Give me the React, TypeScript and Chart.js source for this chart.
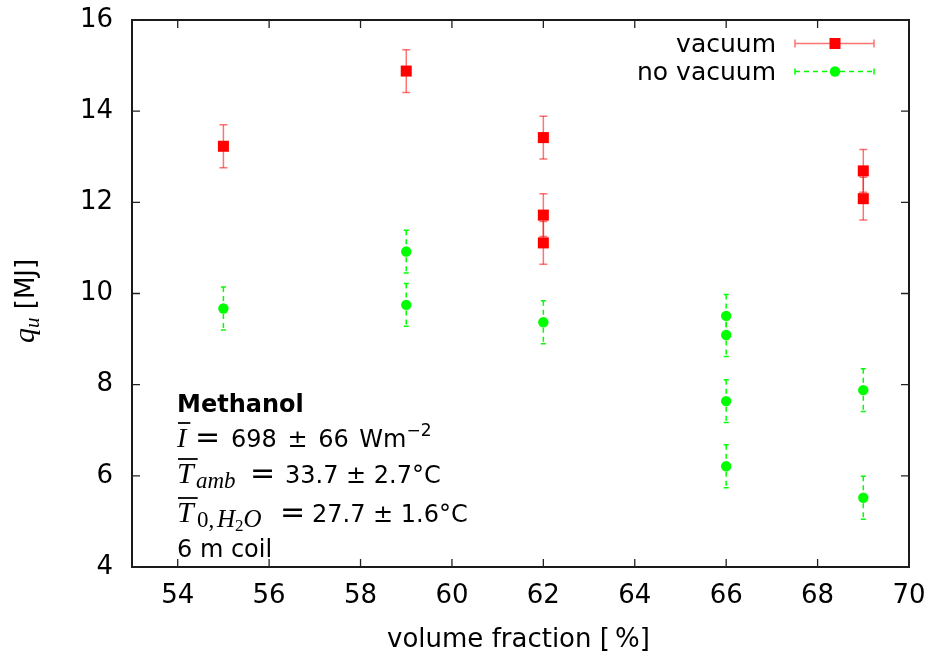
import React, { useEffect, useRef } from "react";
import { Chart, registerables } from "chart.js";

Chart.register(...registerables);

// ---- data ----
const vacuumX = [55, 59, 62, 62, 62, 69, 69];
const vacuumY = [13.23, 14.88, 13.42, 11.72, 11.11, 12.69, 12.08];
const vacuumErr = [0.47, 0.47, 0.47, 0.47, 0.47, 0.47, 0.47];

const noVacuumX = [55, 59, 59, 62, 66, 66, 66, 66, 69, 69];
const noVacuumY = [9.67, 10.92, 9.75, 9.37, 9.51, 9.09, 7.64, 6.21, 7.88, 5.52];
const noVacuumErr = [0.47, 0.47, 0.47, 0.47, 0.47, 0.47, 0.47, 0.47, 0.47, 0.47];

const xTicks = [54, 56, 58, 60, 62, 64, 66, 68, 70];
const yTicks = [4, 6, 8, 10, 12, 14, 16];
const seriesLabels = ["vacuum", "no vacuum"];

const SANS = '"DejaVu Sans"';
const SERIF = '"Liberation Serif"';
const RED = "#ff0000";
const RED_BAR = "rgba(255,0,0,0.55)";
const GREEN = "#00ff00";

type Run = { t: string; f: string; x?: number; dy?: number; over?: boolean; ws?: number };

function drawRuns(ctx: CanvasRenderingContext2D, x0: number, y: number, runs: Run[]) {
  let x = x0;
  for (const r of runs) {
    if (r.x !== undefined) x = r.x;
    ctx.font = r.f;
    (ctx as any).wordSpacing = (r.ws ?? 0) + "px";
    const w = ctx.measureText(r.t).width;
    ctx.fillText(r.t, x, y + (r.dy ?? 0));
    if (r.over) {
      ctx.save();
      ctx.lineWidth = 1.8;
      ctx.strokeStyle = "#000";
      ctx.beginPath();
      ctx.moveTo(x + 1, y - 24);
      ctx.lineTo(x + w + 4, y - 24);
      ctx.stroke();
      ctx.restore();
    }
    x += w;
  }
  (ctx as any).wordSpacing = "0px";
  return x;
}

function drawErrorBars(
  ctx: CanvasRenderingContext2D,
  xs: number[],
  ys: number[],
  errs: number[],
  xs_: any,
  ys_: any,
  color: string,
  dash: number[],
  capHalf: number
) {
  ctx.save();
  ctx.strokeStyle = color;
  ctx.lineWidth = 1.5;
  xs.forEach((xv, i) => {
    const px = xs_.getPixelForValue(xv);
    const top = ys_.getPixelForValue(ys[i] + errs[i]);
    const bot = ys_.getPixelForValue(ys[i] - errs[i]);
    ctx.setLineDash(dash);
    ctx.beginPath();
    ctx.moveTo(px, top);
    ctx.lineTo(px, bot);
    ctx.stroke();
    ctx.setLineDash([]);
    ctx.beginPath();
    ctx.moveTo(px - capHalf, top);
    ctx.lineTo(px + capHalf, top);
    ctx.moveTo(px - capHalf, bot);
    ctx.lineTo(px + capHalf, bot);
    ctx.stroke();
  });
  ctx.restore();
}

const overlay = {
  id: "overlay",
  beforeDatasetsDraw(chart: any) {
    const { ctx, scales } = chart;
    drawErrorBars(ctx, vacuumX, vacuumY, vacuumErr, scales.x, scales.y, RED_BAR, [], 4);
    drawErrorBars(ctx, noVacuumX, noVacuumY, noVacuumErr, scales.x, scales.y, GREEN, [5, 4], 2.5);
  },
  afterDraw(chart: any) {
    const { ctx, chartArea: a, scales } = chart;
    ctx.save();
    // frame
    ctx.strokeStyle = "#1a1a1a";
    ctx.lineWidth = 2;
    ctx.strokeRect(a.left, a.top, a.right - a.left, a.bottom - a.top);
    // inward ticks on all sides
    ctx.lineWidth = 1.3;
    ctx.strokeStyle = "#222";
    const tl = 8;
    xTicks.forEach((v) => {
      const px = scales.x.getPixelForValue(v);
      ctx.beginPath();
      ctx.moveTo(px, a.bottom);
      ctx.lineTo(px, a.bottom - tl);
      ctx.moveTo(px, a.top);
      ctx.lineTo(px, a.top + tl);
      ctx.stroke();
    });
    yTicks.forEach((v) => {
      const py = scales.y.getPixelForValue(v);
      ctx.beginPath();
      ctx.moveTo(a.left, py);
      ctx.lineTo(a.left + tl, py);
      ctx.moveTo(a.right, py);
      ctx.lineTo(a.right - tl, py);
      ctx.stroke();
    });

    // legend
    ctx.fillStyle = "#000";
    ctx.textAlign = "right";
    ctx.textBaseline = "alphabetic";
    ctx.font = `25px ${SANS}`;
    ctx.fillText(seriesLabels[0], 776, 52);
    ctx.fillText(seriesLabels[1], 776, 80);
    ctx.textAlign = "left";
    const lx0 = 795,
      lx1 = 874,
      lxm = 835,
      ly0 = 43.5,
      ly1 = 71.5;
    ctx.lineWidth = 1.5;
    ctx.strokeStyle = RED_BAR;
    ctx.beginPath();
    ctx.moveTo(lx0, ly0);
    ctx.lineTo(lx1, ly0);
    ctx.moveTo(lx0, ly0 - 4);
    ctx.lineTo(lx0, ly0 + 4);
    ctx.moveTo(lx1, ly0 - 4);
    ctx.lineTo(lx1, ly0 + 4);
    ctx.stroke();
    ctx.fillStyle = RED;
    ctx.fillRect(lxm - 5.5, ly0 - 5.5, 11, 11);
    ctx.strokeStyle = GREEN;
    ctx.setLineDash([5, 4]);
    ctx.beginPath();
    ctx.moveTo(lx0, ly1);
    ctx.lineTo(lx1, ly1);
    ctx.stroke();
    ctx.setLineDash([]);
    ctx.beginPath();
    ctx.moveTo(lx0, ly1 - 3);
    ctx.lineTo(lx0, ly1 + 3);
    ctx.moveTo(lx1, ly1 - 3);
    ctx.lineTo(lx1, ly1 + 3);
    ctx.stroke();
    ctx.fillStyle = GREEN;
    ctx.beginPath();
    ctx.arc(lxm, ly1, 5.2, 0, Math.PI * 2);
    ctx.fill();

    // annotation
    ctx.fillStyle = "#000";
    const ax = 177;
    ctx.font = `bold 24px ${SANS}`;
    ctx.fillText("Methanol", ax, 412);
    const mi = `italic 28px ${SERIF}`;
    const sub = `italic 23px ${SERIF}`;
    const sub2 = `italic 25px ${SERIF}`;
    const subUp = `23px ${SERIF}`;
    const eq = `30px ${SANS}`;
    const txt = `24px ${SANS}`;
    drawRuns(ctx, ax, 447, [
      { t: "I", f: mi, over: true },
      { t: "=", f: eq, x: 195 },
      { t: "698 \u00b1 66 Wm", f: txt, x: 231, ws: 3 },
      { t: "\u22122", f: `17px ${SANS}`, dy: -11 },
    ]);
    drawRuns(ctx, ax, 483, [
      { t: "T", f: `italic 30px ${SERIF}`, over: true },
      { t: "amb", f: sub, x: 196, dy: 5 },
      { t: "=", f: eq, x: 250 },
      { t: "33.7 \u00b1 2.7\u00b0C", f: txt, x: 285 },
    ]);
    drawRuns(ctx, ax, 522, [
      { t: "T", f: `italic 30px ${SERIF}`, over: true },
      { t: "0,", f: subUp, x: 197, dy: 5 },
      { t: "H", f: sub2, x: 217, dy: 5 },
      { t: "2", f: `17px ${SERIF}`, dy: 9 },
      { t: "O", f: sub2, dy: 5 },
      { t: "=", f: eq, x: 280 },
      { t: "27.7 \u00b1 1.6\u00b0C", f: txt, x: 312 },
    ]);
    ctx.font = `24px ${SANS}`;
    ctx.fillText("6 m coil", ax, 557);

    // x title
    ctx.font = `26px ${SANS}`;
    ctx.textAlign = "center";
    ctx.fillText("volume fraction [\u2009%]", (a.left + a.right) / 2 - 2, 647);
    ctx.textAlign = "left";

    // y title (rotated)
    ctx.save();
    ctx.translate(34, 343);
    ctx.rotate(-Math.PI / 2);
    drawRuns(ctx, 0, 0, [
      { t: "q", f: `italic 30px ${SERIF}` },
      { t: "u", f: `italic 21px ${SERIF}`, dy: 5 },
      { t: " [MJ]", f: `26px ${SANS}` },
    ]);
    ctx.restore();

    ctx.restore();
  },
};

export default function App() {
  const ref = useRef<HTMLCanvasElement | null>(null);
  useEffect(() => {
    document.body.style.margin = "0";
    if (!ref.current) return;
    const chart = new Chart(ref.current, {
      type: "scatter",
      data: {
        datasets: [
          {
            label: seriesLabels[0],
            data: vacuumX.map((x, i) => ({ x, y: vacuumY[i] })),
            pointStyle: "rect",
            pointRadius: 7.8,
            backgroundColor: RED,
            borderWidth: 0,
          },
          {
            label: seriesLabels[1],
            data: noVacuumX.map((x, i) => ({ x, y: noVacuumY[i] })),
            pointStyle: "circle",
            pointRadius: 5.2,
            backgroundColor: GREEN,
            borderWidth: 0,
          },
        ],
      },
      options: {
        animation: false,
        responsive: true,
        maintainAspectRatio: false,
        layout: { padding: { top: 20, right: 27, left: 0, bottom: 0 } },
        plugins: { legend: { display: false }, tooltip: { enabled: false } },
        scales: {
          x: {
            type: "linear",
            min: 53,
            max: 70,
            afterBuildTicks: (ax: any) => {
              ax.ticks = xTicks.map((v) => ({ value: v }));
            },
            afterFit: (ax: any) => {
              ax.height = 92;
              ax.paddingLeft = 0;
              ax.paddingRight = 0;
            },
            grid: { display: false, drawTicks: false },
            border: { display: false },
            ticks: {
              font: { family: "DejaVu Sans", size: 26 },
              color: "#000",
              padding: 14,
              maxRotation: 0,
              autoSkip: false,
            },
          },
          y: {
            type: "linear",
            min: 4,
            max: 16,
            afterBuildTicks: (ax: any) => {
              ax.ticks = yTicks.map((v) => ({ value: v }));
            },
            afterFit: (ax: any) => {
              ax.width = 132;
              ax.paddingTop = 0;
              ax.paddingBottom = 0;
            },
            grid: { display: false, drawTicks: false },
            border: { display: false },
            ticks: {
              font: { family: "DejaVu Sans", size: 26 },
              color: "#000",
              padding: 19,
              autoSkip: false,
            },
          },
        },
      },
      plugins: [overlay],
    } as any);
    return () => chart.destroy();
  }, []);
  return (
    <div style={{ position: "relative", width: 936, height: 659 }}>
      <canvas ref={ref} />
    </div>
  );
}
